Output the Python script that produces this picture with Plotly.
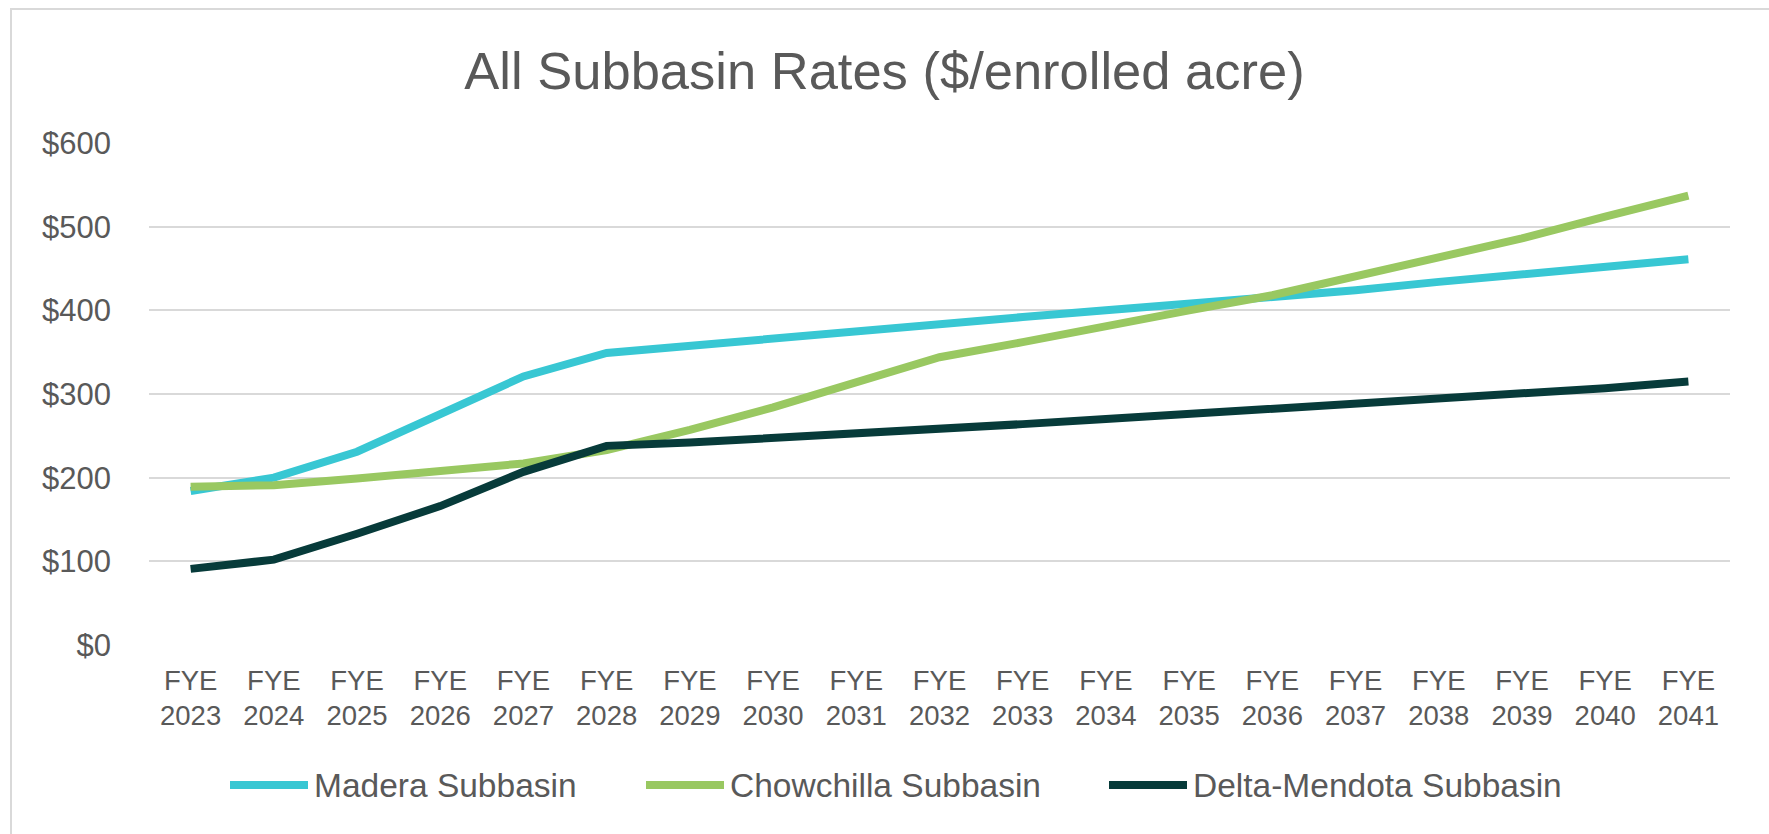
import plotly.graph_objects as go

years = [str(y) for y in range(2023, 2042)]
tick_labels = ["FYE<br>" + y for y in years]

series_names = ["Madera Subbasin", "Chowchilla Subbasin", "Delta-Mendota Subbasin"]
series_colors = ["#38C7D3", "#99C861", "#073B3A"]

madera = [184, 200, 231, 275, 321, 349, 358, 367, 375, 383, 392, 400, 408, 415, 424, 434, 443, 452, 461]
chowchilla = [189, 191, 199, 207, 217, 233, 257, 284, 314, 344, 362, 382, 400, 418, 440, 462, 486, 512, 537]
delta_mendota = [91, 102, 133, 166, 207, 238, 242, 247, 253, 259, 264, 270, 276, 283, 289, 294, 301, 307, 315]

y_ticks = [0, 100, 200, 300, 400, 500, 600]
y_tick_text = ["$" + str(v) for v in y_ticks]

W, H = 1769, 834
L, R, T, B = 149, 39, 143, 189
pw, ph = W - L - R, H - T - B

def px_x(p):
    return (p - L) / pw

def px_y(p):
    return (H - B - p) / ph

font_family = "Arial, Liberation Sans, sans-serif"
text_color = "#595959"

fig = go.Figure()
for name, color, vals in zip(series_names, series_colors, [madera, chowchilla, delta_mendota]):
    fig.add_trace(go.Scatter(
        x=tick_labels, y=vals, name=name, mode="lines",
        line=dict(color=color, width=8),
        showlegend=False,
    ))

# custom legend (line samples + labels)
legend_line_x = [230, 646, 1109]
legend_y = 785
shapes = []
annotations = []
for name, color, lx in zip(series_names, series_colors, legend_line_x):
    shapes.append(dict(type="line", xref="paper", yref="paper",
                       x0=px_x(lx), x1=px_x(lx + 78), y0=px_y(legend_y), y1=px_y(legend_y),
                       line=dict(color=color, width=8)))
    annotations.append(dict(text=name, xref="paper", yref="paper",
                            x=px_x(lx + 82), y=px_y(legend_y), xanchor="left", yanchor="middle",
                            showarrow=False, font=dict(family=font_family, size=33.5, color=text_color)))

# chart border (top and left edges visible)
shapes.append(dict(type="rect", xref="paper", yref="paper",
                   x0=px_x(11), x1=px_x(1900), y0=px_y(9), y1=px_y(900),
                   line=dict(color="#D9D9D9", width=2), fillcolor="rgba(0,0,0,0)", layer="below"))

fig.update_layout(
    width=W, height=H,
    margin=dict(l=L, r=R, t=T, b=B, pad=0),
    paper_bgcolor="white", plot_bgcolor="white",
    title=dict(text="All Subbasin Rates ($/enrolled acre)", x=(884.5 - L) / pw, xref="paper",
               xanchor="center", y=1 - 71 / H, yref="container", yanchor="middle",
               font=dict(family=font_family, size=52.5, color=text_color)),
    font=dict(family=font_family, color=text_color),
    shapes=shapes,
    annotations=annotations,
    xaxis=dict(type="category", range=[-0.5, 18.5], showgrid=False, zeroline=False,
               showline=False, ticks="", tickfont=dict(size=27.5, color=text_color),
               ticklabelstandoff=16),
    yaxis=dict(range=[0, 600], tickvals=y_ticks, ticktext=y_tick_text,
               showgrid=True, gridcolor="#D9D9D9", gridwidth=2, zeroline=False,
               showline=False, ticks="", tickfont=dict(size=31, color=text_color),
               ticklabelstandoff=37),
)

fig.write_html("out.html", config={"displayModeBar": False},
               post_script="document.body.style.margin='0';document.body.style.overflow='hidden';")
